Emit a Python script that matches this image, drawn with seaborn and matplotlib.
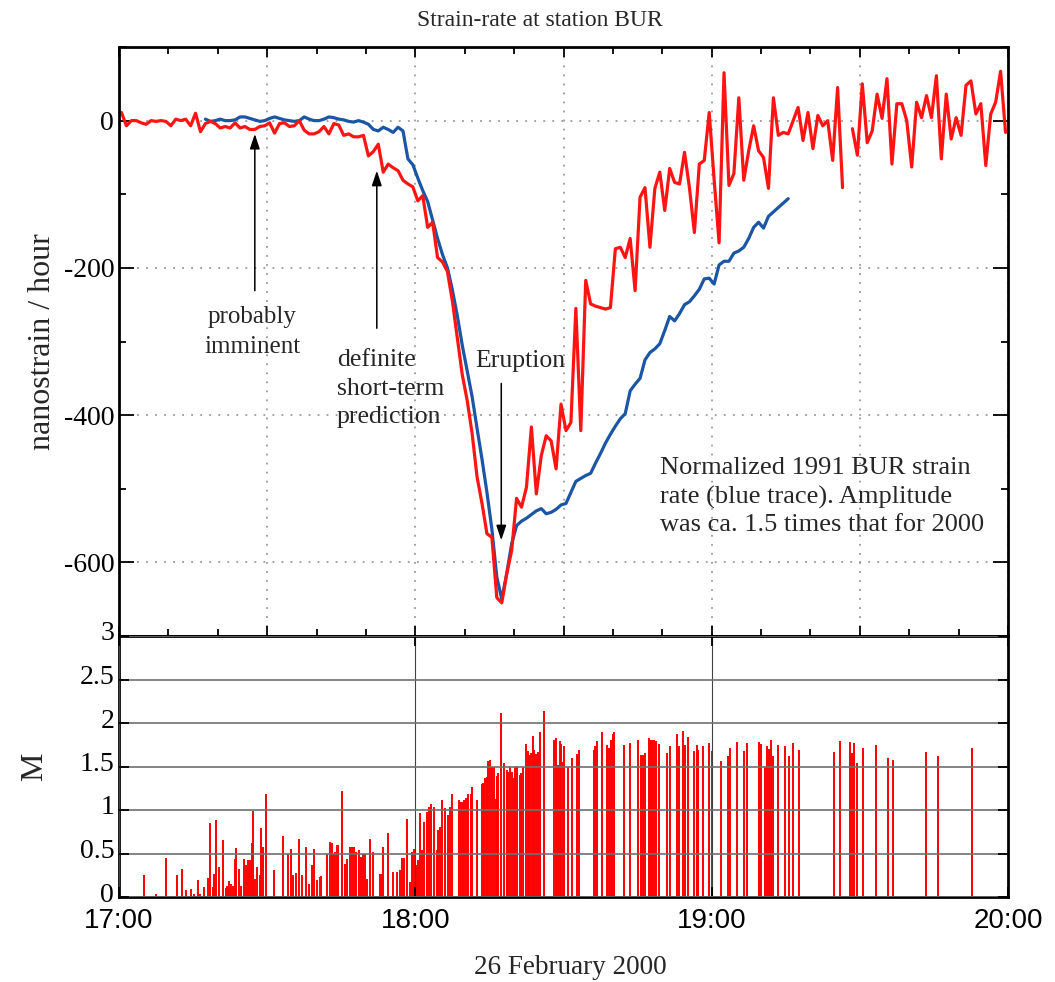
import numpy as np
import pandas as pd
import seaborn as sb
import matplotlib.pyplot as plt
from matplotlib.ticker import MultipleLocator, FixedLocator
from matplotlib.transforms import ScaledTranslation

# strain-rate 2000 (red), one value per minute after 17:00, None = gap
red_rate = [11, -7, 0, 0, -3, -5, 0, -1, 0, -1, -7, 2, 0, 2, -7, 10, -15, -4, -1, -4,
            -10, -8, -10, -3, -10, -8, -12, -12, -8, -7, -3, -17, -4, -3, -8, -7, 0, -13, -18, -18,
            -15, -8, -18, -4, -6, -20, -18, -22, -22, -20, -48, -42, -32, -70, -59, -64, -68, -81, -86, -90,
            -109, -102, -145, -138, -186, -192, -205, -245, -295, -345, -380, -425, -484, -520, -561, -566, -648, -655, -616, -584,
            -513, -525, -498, -416, -507, -455, -428, -435, -473, -385, -421, -410, -255, -421, -217, -249, -252, -254, -256, -254,
            -174, -172, -186, -160, -231, -104, -91, -172, -92, -70, -122, -65, -84, -86, -43, -91, -152, -59, -54, 11,
            -80, -166, 65, -88, -72, 31, -81, -41, -7, -41, -50, -92, 31, -20, -16, -18, 0, 18, -27, 11,
            -38, 7, -7, 0, -54, 45, -91, None, -11, -47, 50, -30, -14, 36, 3, 57, -59, 23, 23, 0,
            -63, 25, 4, 34, 4, 61, -52, 36, -25, 4, -20, 48, 54, 9, 23, -61, 9, 25, 67, -16]

# normalized 1991 trace (blue), starts at 17:17
blue_start = 17
blue_rate = [2, -1, 0, 2, 0, 0, 1, 5, 5, 3, 1, -1, 0, 3, 5, 3, 1, 0, -1, 0,
             5, 2, 0, 0, 2, 5, 4, 2, 1, -1, -2, 0, -2, -5, -12, -14, -9, -12, -16, -9,
             -14, -52, -60, -78, -95, -110, -135, -160, -182, -200, -230, -265, -305, -340, -375, -418, -460, -505, -555, -620,
             -650, -615, -575, -550, -544, -540, -535, -530, -527, -534, -532, -528, -522, -520, -505, -490, -486, -482, -479, -465,
             -452, -438, -426, -415, -405, -398, -367, -358, -350, -325, -315, -310, -303, -285, -266, -272, -262, -250, -246, -238,
             -229, -215, -214, -222, -196, -191, -191, -180, -177, -172, -160, -145, -138, -146, -130, -124, -118, -112, -106]

# earthquakes: minutes after 17:00 and magnitude
quake_min = [5.1, 7.4, 9.6, 10.5, 11.7, 12.8, 13.6, 14.6, 15.1, 15.9, 16.4, 17.3, 18.0, 18.4, 19.0, 19.2, 19.6, 20.3, 21.0, 21.6,
             21.9, 22.3, 22.7, 23.0, 23.5, 23.7, 24.2, 24.8, 25.3, 25.7, 26.1, 26.5, 26.9, 27.1, 27.5, 27.9, 28.6, 28.8, 29.2, 29.8,
             31.3, 33.3, 34.3, 34.8, 35.3, 35.8, 36.4, 37.0, 37.9, 38.5, 39.0, 39.5, 40.0, 40.7, 41.0, 42.1, 42.7, 43.1, 43.4, 43.7,
             44.1, 44.4, 45.1, 45.8, 46.2, 46.8, 47.1, 47.6, 48.0, 48.5, 48.9, 49.5, 49.8, 50.3, 50.8, 51.5, 52.9, 53.2, 53.4, 54.5,
             55.4, 56.2, 56.9, 57.3, 57.7, 58.4, 58.9, 59.4, 59.7, 60.3, 60.6, 61.0, 61.4, 61.8, 62.3, 62.8, 63.2, 63.7, 64.3, 64.5,
             65.0, 65.3, 66.0, 66.7, 67.0, 67.4, 68.9, 69.2, 69.6, 69.9, 70.3, 70.7, 71.2, 71.5, 72.4, 73.5, 73.8, 74.1, 74.5, 74.8,
             75.1, 75.5, 75.9, 76.3, 76.5, 76.8, 77.3, 78.0, 78.5, 78.8, 79.2, 79.5, 79.9, 80.2, 80.5, 81.1, 81.4, 81.8, 82.4, 82.8,
             83.1, 83.4, 83.8, 84.1, 84.5, 84.8, 85.3, 86.1, 88.1, 88.4, 88.8, 89.2, 89.5, 89.9, 90.2, 91.0, 91.8, 92.7, 93.2, 96.1,
             96.4, 96.7, 97.8, 98.9, 99.2, 99.6, 100.0, 100.3, 102.3, 103.5, 105.0, 105.7, 106.0, 106.5, 107.4, 107.7, 108.0, 108.3, 108.7, 109.4,
             110.9, 111.6, 112.9, 113.4, 114.2, 114.6, 115.3, 116.4, 117.0, 117.3, 118.2, 119.5, 120.0, 121.9, 123.3, 123.7, 125.1, 126.6, 127.1, 129.6,
             130.0, 130.8, 131.2, 131.6, 132.0, 132.5, 133.5, 134.8, 135.7, 136.4, 137.6, 144.7, 146.0, 148.0, 148.4, 148.9, 149.4, 150.7, 153.2, 155.7,
             156.7, 163.4, 165.9, 172.8]
quake_mag = [0.25, 0.03, 0.45, 0.01, 0.25, 0.32, 0.08, 0.09, 0.04, 0.2, 0.03, 0.11, 0.22, 0.85, 0.12, 0.27, 0.88, 0.35, 0.65, 0.1,
             0.13, 0.18, 0.15, 0.13, 0.44, 0.56, 0.32, 0.13, 0.44, 0.37, 0.43, 0.43, 0.62, 0.99, 0.21, 0.35, 0.25, 0.79, 0.58, 1.18,
             0.31, 0.7, 0.5, 0.55, 0.25, 0.28, 0.67, 0.25, 0.58, 0.15, 0.37, 0.55, 0.19, 0.23, 0.24, 0.5, 0.63, 0.62, 0.5, 0.52,
             0.6, 0.6, 1.22, 0.38, 0.44, 0.58, 0.58, 0.58, 0.52, 0.54, 0.46, 0.5, 0.5, 0.21, 0.67, 0.52, 0.27, 0.27, 0.58, 0.74,
             0.29, 0.29, 0.31, 0.45, 0.45, 0.9, 0.17, 0.52, 0.55, 0.37, 0.42, 0.97, 0.54, 0.86, 0.98, 1.04, 1.07, 1.04, 0.54, 0.77,
             0.8, 1.12, 1.02, 0.94, 1.03, 1.18, 1.11, 1.09, 1.09, 1.11, 1.14, 1.18, 1.18, 1.26, 1.11, 1.3, 1.31, 1.37, 1.38, 1.56,
             1.57, 1.5, 1.5, 1.13, 1.39, 1.43, 2.11, 1.54, 1.46, 1.44, 1.49, 1.44, 1.37, 1.49, 1.51, 1.4, 1.42, 1.49, 1.76, 1.68,
             1.63, 1.66, 1.85, 1.69, 1.64, 1.67, 1.9, 2.14, 1.81, 1.83, 1.52, 1.79, 1.76, 1.55, 1.74, 1.49, 1.6, 1.64, 1.69, 1.69,
             1.73, 1.79, 1.9, 1.75, 1.71, 1.81, 1.87, 1.9, 1.75, 1.77, 1.8, 1.63, 1.63, 1.65, 1.83, 1.8, 1.8, 1.8, 1.79, 1.76,
             1.65, 1.74, 1.87, 1.73, 1.91, 1.75, 1.84, 1.68, 1.75, 1.69, 1.73, 1.77, 1.68, 1.56, 1.62, 1.71, 1.78, 1.68, 1.77, 1.78,
             1.76, 1.5, 1.74, 1.7, 1.81, 1.62, 1.75, 1.74, 1.62, 1.77, 1.69, 1.67, 1.79, 1.78, 1.65, 1.77, 1.54, 1.71, 1.75, 1.6,
             1.58, 1.67, 1.62, 1.71]

hour_labels = ['17:00', '18:00', '19:00', '20:00']
mag_ticks = [0, 0.5, 1, 1.5, 2, 2.5, 3]
mag_labels = ['0', '0.5', '1', '1.5', '2', '2.5', '3']

sb.set_style('white')
plt.rcParams['font.family'] = ['Liberation Serif', 'DejaVu Serif']
plt.rcParams['axes.unicode_minus'] = False

red_df = pd.DataFrame({'minute': np.arange(len(red_rate)) + 0.5,
                       'rate': pd.array(red_rate, dtype='Float64').astype(float)})
red_df['seg'] = red_df['rate'].isna().cumsum()
red_df = red_df.dropna()
blue_df = pd.DataFrame({'minute': np.arange(len(blue_rate)) + blue_start + 0.5, 'rate': blue_rate})

fig = plt.figure(figsize=(10.55, 9.82), dpi=100)
ax1 = fig.add_axes([119 / 1055, 1 - 636 / 982, 889 / 1055, 589 / 982])
ax2 = fig.add_axes([119 / 1055, 1 - 897 / 982, 889 / 1055, 261 / 982])

# top panel
sb.lineplot(data=blue_df, x='minute', y='rate', color='#1b55a5', lw=2.3, ax=ax1)
sb.lineplot(data=red_df, x='minute', y='rate', units='seg', estimator=None,
            color='#ff1414', lw=2.3, ax=ax1)
ax1.set_xlim(0, 180)
ax1.set_ylim(-700, 100)
ax1.xaxis.set_major_locator(MultipleLocator(30))
ax1.xaxis.set_minor_locator(MultipleLocator(10))
ax1.yaxis.set_major_locator(FixedLocator([-600, -400, -200, 0]))
ax1.yaxis.set_minor_locator(MultipleLocator(100))
ax1.grid(True, which='major', color='#9a9a9a', linestyle=(0, (1, 4)), lw=1.3)
ax1.tick_params(which='both', direction='in', top=True, right=True, bottom=True, left=True,
                labelbottom=False, width=1.3, colors='black', labelsize=20)
ax1.tick_params(axis='y', which='major', length=11)
ax1.tick_params(axis='y', which='minor', length=5)
ax1.tick_params(axis='x', which='major', length=7)
ax1.tick_params(axis='x', which='minor', length=5)
ax1.set_xlabel('')
ax1.set_ylabel('nanostrain / hour', fontsize=23, labelpad=5)

arrow_kw = dict(arrowstyle='-|>,head_width=0.3,head_length=0.9', color='black', lw=1.1,
                shrinkA=0, shrinkB=0)
ax1.annotate('', xy=(27.5, -18), xytext=(27.5, -231), arrowprops=arrow_kw)
ax1.text(27.0, -287, 'probably\nimminent', ha='center', va='center', fontsize=18, linespacing=1.45)
ax1.annotate('', xy=(52.2, -68), xytext=(52.2, -282), arrowprops=arrow_kw)
ax1.text(44.1, -364, 'definite\nshort-term\nprediction', ha='left', va='center', fontsize=18.5,
         linespacing=1.4)
ax1.annotate('', xy=(77.4, -570), xytext=(77.4, -357), arrowprops=arrow_kw)
ax1.text(81.2, -326, 'Eruption', ha='center', va='center', fontsize=18.5)
ax1.text(109.6, -511, 'Normalized 1991 BUR strain\nrate (blue trace). Amplitude\nwas ca. 1.5 times that for 2000',
         ha='left', va='center', fontsize=19, linespacing=1.35)

# bottom panel
ax2.vlines(quake_min, 0, quake_mag, color='#ff0000', lw=1.4)
ax2.set_xlim(0, 180)
ax2.set_ylim(0, 3)
ax2.set_yticks(mag_ticks)
ax2.set_yticklabels(mag_labels)
ax2.set_xticks([0, 60, 120, 180])
ax2.set_xticklabels(hour_labels, fontfamily='Liberation Sans', fontsize=21)
ax2.grid(True, axis='y', color='#707070', lw=1.2)
ax2.grid(True, axis='x', color='#444444', lw=0.8)
ax2.set_axisbelow(False)
ax2.tick_params(which='both', direction='in', top=True, right=True, bottom=True, left=True,
                width=1.3, length=7, colors='black', labelsize=20)
ax2.tick_params(axis='x', pad=8)
ax2.set_ylabel('M', fontsize=23, labelpad=22)
lift = ScaledTranslation(0, 5 / 100, fig.dpi_scale_trans)
for lab in ax2.get_yticklabels():
    lab.set_transform(lab.get_transform() + lift)

for ax in (ax1, ax2):
    for s in ax.spines.values():
        s.set_linewidth(2)
        s.set_color('black')

fig.text(540 / 1055, 1 - 20 / 982, 'Strain-rate at station BUR', ha='center', va='center', fontsize=17)
fig.text(570 / 1055, 1 - 968 / 982, '26 February 2000', ha='center', va='center', fontsize=19.5)

fig.savefig('out.png', dpi=100)
